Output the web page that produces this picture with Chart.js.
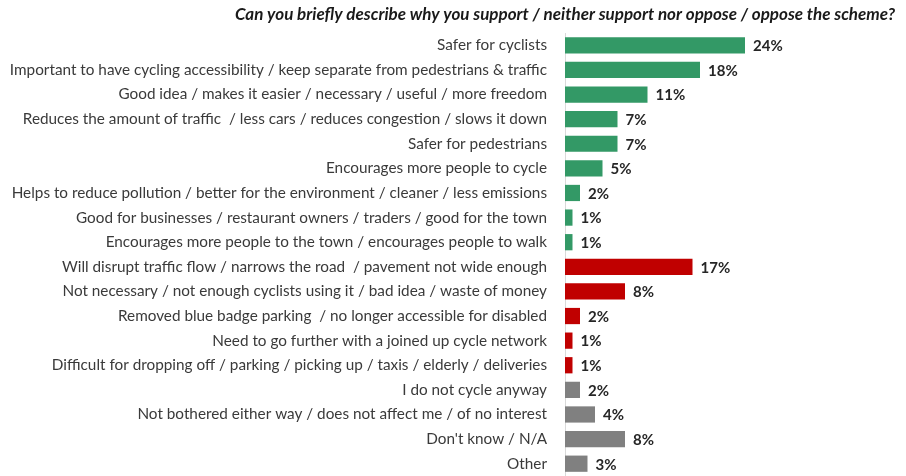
<!DOCTYPE html>
<html>
<head>
<meta charset="utf-8">
<script src="https://cdn.jsdelivr.net/npm/chart.js@4/dist/chart.umd.min.js"></script>
<style>
  html, body { margin: 0; padding: 0; background: #fff; }
  #wrap { width: 906px; height: 476px; }
</style>
</head>
<body>
<div id="wrap"><canvas id="reasons"></canvas></div>
<script>
// survey reasons, top to bottom
const reasons = [
  "Safer for cyclists",
  "Important to have cycling accessibility / keep separate from pedestrians & traffic",
  "Good idea / makes it easier / necessary / useful / more freedom",
  "Reduces the amount of traffic  / less cars / reduces congestion / slows it down",
  "Safer for pedestrians",
  "Encourages more people to cycle",
  "Helps to reduce pollution / better for the environment / cleaner / less emissions",
  "Good for businesses / restaurant owners / traders / good for the town",
  "Encourages more people to the town / encourages people to walk",
  "Will disrupt traffic flow / narrows the road  / pavement not wide enough",
  "Not necessary / not enough cyclists using it / bad idea / waste of money",
  "Removed blue badge parking  / no longer accessible for disabled",
  "Need to go further with a joined up cycle network",
  "Difficult for dropping off / parking / picking up / taxis / elderly / deliveries",
  "I do not cycle anyway",
  "Not bothered either way / does not affect me / of no interest",
  "Don't know / N/A",
  "Other"
];
const shares = [24, 18, 11, 7, 7, 5, 2, 1, 1, 17, 8, 2, 1, 1, 2, 4, 8, 3];
const stance = ["support", "support", "support", "support", "support", "support", "support", "support", "support",
                "oppose", "oppose", "oppose", "oppose", "oppose",
                "neutral", "neutral", "neutral", "neutral"];

const stanceColour = { support: "#339966", oppose: "#C00000", neutral: "#808080" };
const FONT = "Lato, 'Open Sans', sans-serif";

// percentage written just past the end of each bar
const valueLabels = {
  id: "valueLabels",
  afterDatasetsDraw(chart) {
    const ctx = chart.ctx;
    const meta = chart.getDatasetMeta(0);
    ctx.save();
    ctx.font = "bold 15px " + FONT;
    ctx.fillStyle = "#262626";
    ctx.textBaseline = "middle";
    ctx.textAlign = "left";
    meta.data.forEach((bar, i) => {
      ctx.fillText(shares[i] + "%", bar.x + 8, bar.y + 1);
    });
    ctx.restore();
  }
};

new Chart(document.getElementById("reasons"), {
  type: "bar",
  data: {
    labels: reasons,
    datasets: [{
      data: shares,
      backgroundColor: stance.map(s => stanceColour[s]),
      barPercentage: 0.66,
      categoryPercentage: 1
    }]
  },
  options: {
    indexAxis: "y",
    responsive: true,
    maintainAspectRatio: false,
    animation: false,
    layout: { padding: { left: 0, right: 11, top: 0, bottom: 0 } },
    plugins: {
      legend: { display: false },
      tooltip: { enabled: false },
      title: {
        display: true,
        text: "Can you briefly describe why you support / neither support nor oppose / oppose the scheme?",
        align: "end",
        color: "#1a1a1a",
        font: { family: FONT, size: 17, style: "italic", weight: "bold", lineHeight: 1 },
        padding: { top: 6, bottom: 10 }
      }
    },
    scales: {
      x: { display: false, min: 0, max: 44 },
      y: {
        // fixed label column; rows run right down to the bottom edge
        afterFit(scale) {
          scale.width = 565;
          scale.paddingTop = 0;
          scale.paddingBottom = 0;
        },
        grid: { display: false },
        border: { display: true, color: "#d9d9d9", width: 1 },
        ticks: {
          color: "#3a3a3a",
          padding: 10,
          autoSkip: false,
          font: { family: FONT, size: 15.3 }
        }
      }
    }
  },
  plugins: [valueLabels]
});
</script>
</body>
</html>
